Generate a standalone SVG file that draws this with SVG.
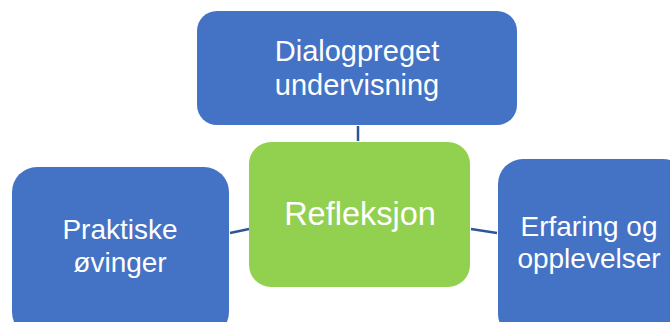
<svg xmlns="http://www.w3.org/2000/svg" width="670" height="322" viewBox="0 0 670 322">
<style>
.blue{fill:#4472C4}
.green{fill:#92D050}
.t{fill:#ffffff;font-family:"Liberation Sans",Arial,sans-serif;font-size:28px;text-anchor:middle}
.c{stroke:#2F5597;stroke-width:2.5;fill:none}
</style>
<rect width="670" height="322" fill="#ffffff"/>
<g id="connectors">
<line class="c" x1="358" y1="126" x2="358" y2="141"/>
<line class="c" x1="230" y1="233" x2="249" y2="229"/>
<line class="c" x1="471" y1="229" x2="497" y2="233"/>
</g>
<g id="top">
<rect class="blue" x="197" y="11" width="320" height="114" rx="20"/>
<text class="t" x="357" y="61" style="font-size:29px">Dialogpreget</text>
<text class="t" x="357" y="95" style="font-size:29px">undervisning</text>
</g>
<g id="center">
<rect class="green" x="249" y="142" width="221" height="145" rx="22"/>
<text class="t" x="360" y="225" style="font-size:32.5px">Refleksjon</text>
</g>
<g id="left">
<rect class="blue" x="12" y="167" width="217" height="170" rx="25"/>
<text class="t" x="120" y="239">Praktiske</text>
<text class="t" x="120" y="272">øvinger</text>
</g>
<g id="right">
<rect class="blue" x="498" y="159" width="190" height="180" rx="25"/>
<text class="t" x="589" y="236">Erfaring og</text>
<text class="t" x="589" y="268">opplevelser</text>
</g>
</svg>
